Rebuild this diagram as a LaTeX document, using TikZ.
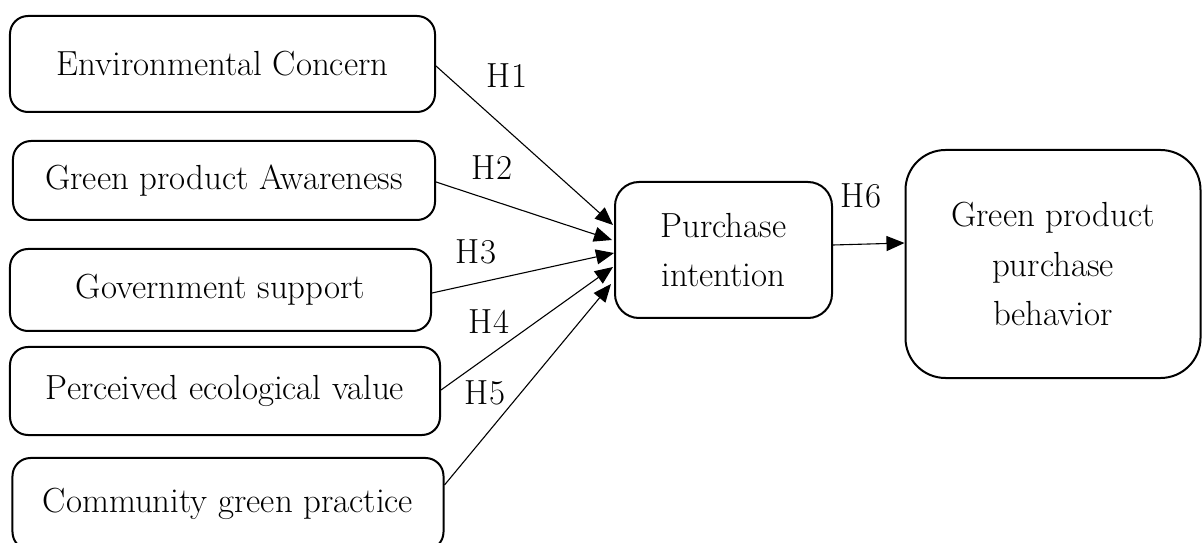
\documentclass[tikz,border=0pt]{standalone}
\usepackage{fontspec}
\setmainfont{Latin Modern Roman}
\usetikzlibrary{arrows.meta}
\begin{document}
\begin{tikzpicture}[x=1bp,y=-1bp,
  box/.style={draw, line width=2bp, rounded corners=18bp, inner sep=0pt, align=center,
    font=\fontsize{35}{50}\selectfont},
  link/.style={line width=1.1bp, -{Triangle[length=18bp,width=15bp]}},
  hlab/.style={font=\fontsize{35}{40}\selectfont, inner sep=0pt}]
\useasboundingbox (0,0) rectangle (1203,543);
\node[box, minimum width=425bp, minimum height=96bp] (ec) at (222.5,64) {Environmental Concern};
\node[box, minimum width=422bp, minimum height=79bp] (ga) at (224,180.5) {Green product Awareness};
\node[box, minimum width=421bp, minimum height=82bp] (gs) at (220.5,290) {Government support};
\node[box, minimum width=430bp, minimum height=88bp] (pe) at (225,391) {Perceived ecological value};
\node[box, minimum width=431bp, minimum height=92bp] (cg) at (228,504) {Community green practice};
\node[box, rounded corners=24bp, minimum width=217bp, minimum height=136bp] (pi) at (723.5,250) {Purchase\\intention};
\node[box, rounded corners=40bp, minimum width=295bp, minimum height=228bp] (gb) at (1053,264) {Green product\\purchase\\behavior};
\coordinate (t1) at (613,225);
\coordinate (t2) at (612,240);
\coordinate (t3) at (614,253);
\coordinate (t4) at (613,267);
\coordinate (t5) at (611,284);
\draw[link] (ec.east |- 0,66) -- (t1);
\draw[link] (ga.east |- 0,182) -- (t2);
\draw[link] (gs.east |- 0,293) -- (t3);
\draw[link] (pe.east |- 0,390) -- (t4);
\draw[link] (cg.east |- 0,485) -- (t5);
\draw[link] (pi.east |- 0,245) -- (gb.west |- 0,243);
\node[hlab] (h1) at (507,76) {H1};
\node[hlab] (h2) at (492,168) {H2};
\node[hlab] (h3) at (476,252) {H3};
\node[hlab] (h4) at (489,322) {H4};
\node[hlab] (h5) at (485,393) {H5};
\node[hlab] (h6) at (861,196) {H6};
\end{tikzpicture}
\end{document}
